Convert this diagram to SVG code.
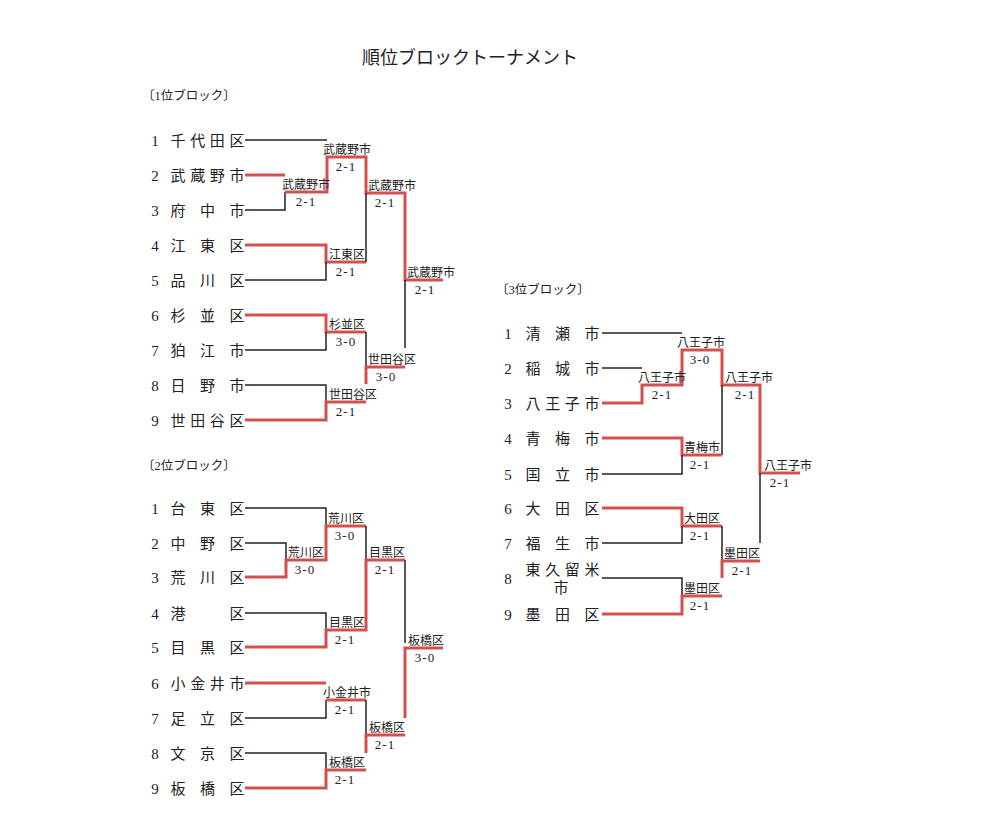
<svg xmlns="http://www.w3.org/2000/svg" width="1000" height="830" viewBox="0 0 1000 830">
<style>
text{font-family:"Liberation Serif","Noto Sans CJK JP",serif;fill:#222}
.t{font-size:18px}
.h{font-size:12.5px}
.n{font-size:15px;text-anchor:middle}
.l{font-size:12px;text-anchor:middle}
.s{font-size:13px;text-anchor:middle;letter-spacing:1px}
.b{fill:none;stroke:#222;stroke-width:1.5}
.r{fill:none;stroke:#d4504e;stroke-width:3}
</style>
<rect width="1000" height="830" fill="#fff"/>
<text class="t" x="470" y="64" text-anchor="middle">順位ブロックトーナメント</text>
<text class="h" x="142" y="100">〔1位ブロック〕</text>
<text class="h" x="142" y="470">〔2位ブロック〕</text>
<text class="h" x="496" y="294">〔3位ブロック〕</text>

<g id="connectors">
<!-- block 1 -->
<path class="b" d="M245 140 H327"/>
<path class="r" d="M245 175 H285"/>
<path class="b" d="M245 210 H285 V192"/>
<path class="r" d="M285 192 H327 V157 H366 V193 H405 V280 H443"/>
<path class="r" d="M245 245 H326 V262 H366"/>
<path class="b" d="M245 280 H326 V262"/>
<path class="b" d="M366 193 V262"/>
<path class="r" d="M245 315 H326 V332 H366"/>
<path class="b" d="M245 350 H326 V332"/>
<path class="b" d="M245 385 H326 V402"/>
<path class="r" d="M245 420 H326 V402 H366"/>
<path class="b" d="M366 332 V367"/>
<path class="r" d="M366 384 V367 H405"/>
<path class="b" d="M405 280 V348"/>
<!-- block 2 -->
<path class="b" d="M245 508 H326 V526"/>
<path class="b" d="M245 543 H286 V560"/>
<path class="r" d="M245 577 H286 V560 H326 V526 H366"/>
<path class="b" d="M366 526 V560"/>
<path class="b" d="M245 613 H326 V630"/>
<path class="r" d="M245 647 H326 V630 H366 V560 H405"/>
<path class="b" d="M405 560 V643"/>
<path class="r" d="M443 648 H405 V718"/>
<path class="r" d="M245 683 H326"/>
<path class="b" d="M245 718 H326 V700"/>
<path class="r" d="M326 700 H366"/>
<path class="b" d="M366 700 V735"/>
<path class="b" d="M245 753 H326 V770"/>
<path class="r" d="M245 788 H326 V770 H366"/>
<path class="r" d="M366 753 V735 H405"/>
<!-- block 3 -->
<path class="b" d="M602 333 H682"/>
<path class="b" d="M602 368 H642"/>
<path class="r" d="M602 403 H642 V385 H682 V350 H722 V385 H760 V473 H800"/>
<path class="b" d="M722 385 V455"/>
<path class="r" d="M602 438 H682 V455 H722"/>
<path class="b" d="M602 474 H682 V455"/>
<path class="b" d="M760 473 V543"/>
<path class="r" d="M602 508 H682 V526 H722"/>
<path class="b" d="M602 543 H682 V526"/>
<path class="b" d="M722 526 V561"/>
<path class="b" d="M602 578 H682 V596"/>
<path class="r" d="M602 614 H682 V596 H722"/>
<path class="r" d="M722 578 V561 H760"/>
</g>

<g id="block1">
<g id="b1-1"><text class="n" x="155" y="145.5">1</text><text class="n" x="178 197.7 217.3 237" y="145.5">千代田区</text></g>
<g id="b1-2"><text class="n" x="155" y="180.5">2</text><text class="n" x="178 197.7 217.3 237" y="180.5">武蔵野市</text></g>
<g id="b1-3"><text class="n" x="155" y="215.5">3</text><text class="n" x="178 207.5 237" y="215.5">府中市</text></g>
<g id="b1-4"><text class="n" x="155" y="250.5">4</text><text class="n" x="178 207.5 237" y="250.5">江東区</text></g>
<g id="b1-5"><text class="n" x="155" y="285.5">5</text><text class="n" x="178 207.5 237" y="285.5">品川区</text></g>
<g id="b1-6"><text class="n" x="155" y="320.5">6</text><text class="n" x="178 207.5 237" y="320.5">杉並区</text></g>
<g id="b1-7"><text class="n" x="155" y="355.5">7</text><text class="n" x="178 207.5 237" y="355.5">狛江市</text></g>
<g id="b1-8"><text class="n" x="155" y="390.5">8</text><text class="n" x="178 207.5 237" y="390.5">日野市</text></g>
<g id="b1-9"><text class="n" x="155" y="425.5">9</text><text class="n" x="178 197.7 217.3 237" y="425.5">世田谷区</text></g>
<g id="b1-m1"><text class="l" x="306" y="189">武蔵野市</text><text class="s" x="306" y="206">2-1</text></g>
<g id="b1-m2"><text class="l" x="347" y="154">武蔵野市</text><text class="s" x="346" y="171">2-1</text></g>
<g id="b1-m3"><text class="l" x="347" y="259">江東区</text><text class="s" x="346" y="276">2-1</text></g>
<g id="b1-m4"><text class="l" x="392" y="190">武蔵野市</text><text class="s" x="385" y="207">2-1</text></g>
<g id="b1-m5"><text class="l" x="431" y="277">武蔵野市</text><text class="s" x="425" y="294">2-1</text></g>
<g id="b1-m6"><text class="l" x="347" y="329">杉並区</text><text class="s" x="346" y="346">3-0</text></g>
<g id="b1-m7"><text class="l" x="353" y="399">世田谷区</text><text class="s" x="346" y="416">2-1</text></g>
<g id="b1-m8"><text class="l" x="392" y="364">世田谷区</text><text class="s" x="386" y="381">3-0</text></g>
</g>

<g id="block2">
<g id="b2-1"><text class="n" x="155" y="513.5">1</text><text class="n" x="178 207.5 237" y="513.5">台東区</text></g>
<g id="b2-2"><text class="n" x="155" y="548.5">2</text><text class="n" x="178 207.5 237" y="548.5">中野区</text></g>
<g id="b2-3"><text class="n" x="155" y="582.5">3</text><text class="n" x="178 207.5 237" y="582.5">荒川区</text></g>
<g id="b2-4"><text class="n" x="155" y="618.5">4</text><text class="n" x="178 237" y="618.5">港区</text></g>
<g id="b2-5"><text class="n" x="155" y="652.5">5</text><text class="n" x="178 207.5 237" y="652.5">目黒区</text></g>
<g id="b2-6"><text class="n" x="155" y="688.5">6</text><text class="n" x="178 197.7 217.3 237" y="688.5">小金井市</text></g>
<g id="b2-7"><text class="n" x="155" y="723.5">7</text><text class="n" x="178 207.5 237" y="723.5">足立区</text></g>
<g id="b2-8"><text class="n" x="155" y="758.5">8</text><text class="n" x="178 207.5 237" y="758.5">文京区</text></g>
<g id="b2-9"><text class="n" x="155" y="793.5">9</text><text class="n" x="178 207.5 237" y="793.5">板橋区</text></g>
<g id="b2-m1"><text class="l" x="306" y="557">荒川区</text><text class="s" x="305" y="574">3-0</text></g>
<g id="b2-m2"><text class="l" x="346" y="523">荒川区</text><text class="s" x="345" y="540">3-0</text></g>
<g id="b2-m3"><text class="l" x="347" y="627">目黒区</text><text class="s" x="345" y="644">2-1</text></g>
<g id="b2-m4"><text class="l" x="387" y="557">目黒区</text><text class="s" x="385" y="574">2-1</text></g>
<g id="b2-m5"><text class="l" x="426" y="645">板橋区</text><text class="s" x="425" y="662">3-0</text></g>
<g id="b2-m6"><text class="l" x="347" y="697">小金井市</text><text class="s" x="345" y="714">2-1</text></g>
<g id="b2-m7"><text class="l" x="347" y="767">板橋区</text><text class="s" x="345" y="784">2-1</text></g>
<g id="b2-m8"><text class="l" x="387" y="732">板橋区</text><text class="s" x="385" y="749">2-1</text></g>
</g>

<g id="block3">
<g id="b3-1"><text class="n" x="508" y="338.5">1</text><text class="n" x="533 562.5 592" y="338.5">清瀬市</text></g>
<g id="b3-2"><text class="n" x="508" y="373.5">2</text><text class="n" x="533 562.5 592" y="373.5">稲城市</text></g>
<g id="b3-3"><text class="n" x="508" y="408.5">3</text><text class="n" x="533 552.7 572.3 592" y="408.5">八王子市</text></g>
<g id="b3-4"><text class="n" x="508" y="443.5">4</text><text class="n" x="533 562.5 592" y="443.5">青梅市</text></g>
<g id="b3-5"><text class="n" x="508" y="479.5">5</text><text class="n" x="533 562.5 592" y="479.5">国立市</text></g>
<g id="b3-6"><text class="n" x="508" y="513.5">6</text><text class="n" x="533 562.5 592" y="513.5">大田区</text></g>
<g id="b3-7"><text class="n" x="508" y="548.5">7</text><text class="n" x="533 562.5 592" y="548.5">福生市</text></g>
<g id="b3-8"><text class="n" x="508" y="583.5">8</text><text class="n" x="533 552.7 572.3 592" y="575">東久留米</text><text class="n" x="561" y="592.5">市</text></g>
<g id="b3-9"><text class="n" x="508" y="619.5">9</text><text class="n" x="533 562.5 592" y="619.5">墨田区</text></g>
<g id="b3-m1"><text class="l" x="662" y="382">八王子市</text><text class="s" x="662" y="399">2-1</text></g>
<g id="b3-m2"><text class="l" x="701" y="347">八王子市</text><text class="s" x="700" y="364">3-0</text></g>
<g id="b3-m3"><text class="l" x="702" y="452">青梅市</text><text class="s" x="700" y="469">2-1</text></g>
<g id="b3-m4"><text class="l" x="749" y="382">八王子市</text><text class="s" x="745" y="399">2-1</text></g>
<g id="b3-m5"><text class="l" x="788" y="470">八王子市</text><text class="s" x="780" y="487">2-1</text></g>
<g id="b3-m6"><text class="l" x="702" y="523">大田区</text><text class="s" x="700" y="540">2-1</text></g>
<g id="b3-m7"><text class="l" x="702" y="593">墨田区</text><text class="s" x="700" y="610">2-1</text></g>
<g id="b3-m8"><text class="l" x="742" y="558">墨田区</text><text class="s" x="742" y="575">2-1</text></g>
</g>
</svg>
